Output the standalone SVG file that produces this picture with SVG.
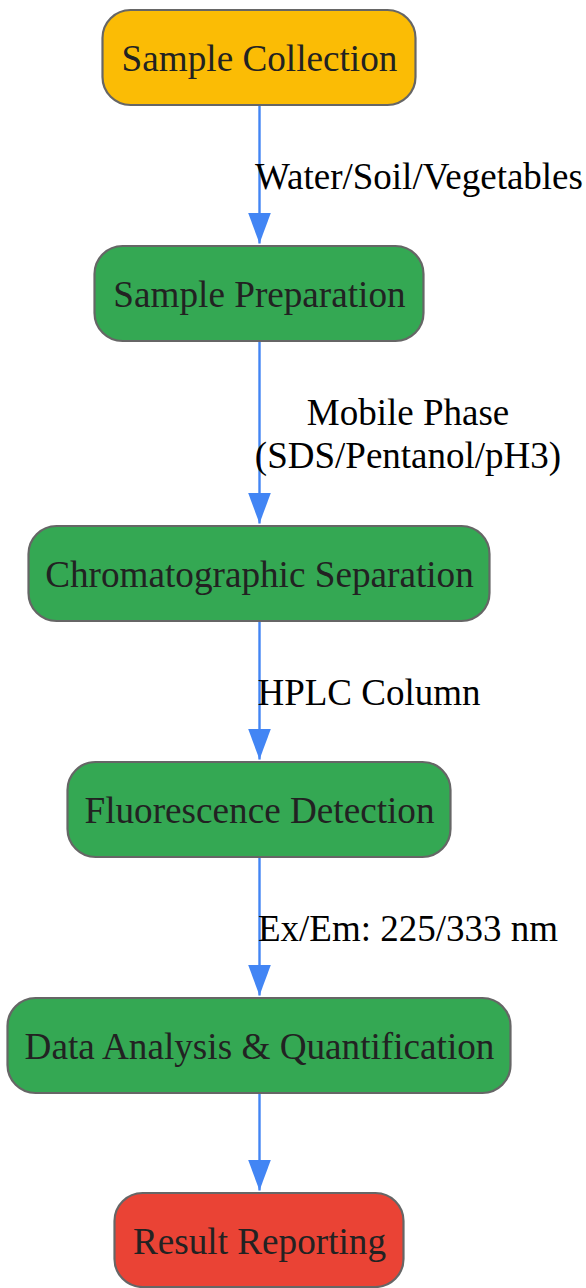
<svg xmlns="http://www.w3.org/2000/svg" width="586" height="1288" viewBox="0 0 586 1288">
<style>
.node rect{stroke:#666666;stroke-width:2.2}
.node text{font-family:"Liberation Serif","Times New Roman",serif;font-size:37.2px;fill:#222222;text-anchor:middle}
.y{fill:#FBBC05}.g{fill:#34A853}.r{fill:#EA4335}
.edge{stroke:#4285F4;stroke-width:2.4;fill:none}
.lbl{font-family:"Liberation Serif","Times New Roman",serif;font-size:37px;fill:#000000;text-anchor:middle}
</style>
<defs>
<marker id="ah" markerUnits="userSpaceOnUse" markerWidth="32" markerHeight="24" refX="31" refY="12" orient="auto" viewBox="0 0 32 24">
<path d="M0,0.5 L31,12 L0,23.5 Z" fill="#4285F4"/>
</marker>
</defs>
<g id="connectors">
<line class="edge" x1="259.5" y1="105" x2="259.5" y2="243.5" marker-end="url(#ah)"/>
<line class="edge" x1="259.5" y1="341" x2="259.5" y2="523.5" marker-end="url(#ah)"/>
<line class="edge" x1="259.5" y1="621" x2="259.5" y2="759.5" marker-end="url(#ah)"/>
<line class="edge" x1="259.5" y1="857" x2="259.5" y2="995.5" marker-end="url(#ah)"/>
<line class="edge" x1="259.5" y1="1093" x2="259.5" y2="1190.5" marker-end="url(#ah)"/>
<text class="lbl" x="419" y="189">Water/Soil/Vegetables</text>
<text class="lbl" x="408" y="425">Mobile Phase</text>
<text class="lbl" x="408" y="468">(SDS/Pentanol/pH3)</text>
<text class="lbl" x="369" y="705">HPLC Column</text>
<text class="lbl" x="408" y="941">Ex/Em: 225/333 nm</text>
</g>
<g id="n1" class="node"><rect class="y" x="102.5" y="10" width="313" height="95" rx="28"/><text x="259.5" y="71">Sample Collection</text></g>
<g id="n2" class="node"><rect class="g" x="94.5" y="246" width="329" height="95" rx="28"/><text x="259.5" y="307">Sample Preparation</text></g>
<g id="n3" class="node"><rect class="g" x="28.5" y="526" width="461" height="95" rx="28"/><text x="259.5" y="587">Chromatographic Separation</text></g>
<g id="n4" class="node"><rect class="g" x="67.5" y="762" width="383" height="95" rx="28"/><text x="259.5" y="823">Fluorescence Detection</text></g>
<g id="n5" class="node"><rect class="g" x="7.5" y="998" width="503" height="95" rx="28"/><text x="259.5" y="1059">Data Analysis &amp; Quantification</text></g>
<g id="n6" class="node"><rect class="r" x="114.5" y="1193" width="289" height="94" rx="28"/><text x="259.5" y="1254">Result Reporting</text></g>
</svg>
